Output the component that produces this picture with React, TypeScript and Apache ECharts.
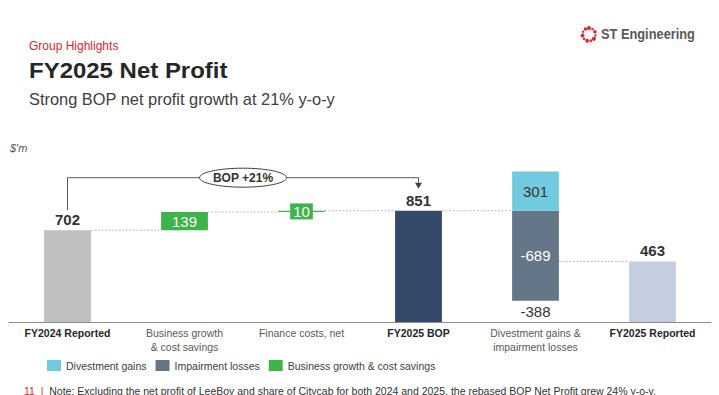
import React, { useEffect, useRef } from "react";
import * as echarts from "echarts";

const categories = [
  "FY2024 Reported",
  "Business growth\n& cost savings",
  "Finance costs, net",
  "FY2025 BOP",
  "Divestment gains &\nimpairment losses",
  "FY2025 Reported",
];
const totalFlags = [true, false, false, true, false, true];
const totals = [702, null, null, 851, null, 463];
const growth = [null, 139, 10, null, null, null];
const impairment = [null, null, null, null, 689, null];
const divestment = [null, null, null, null, 301, null];
const totalColors = ["#BFBFBF", "", "", "#34486A", "", "#C3CEE0"];
const bracketLevel = 1104;

const GREEN = "#3CB44A";
const BLUE = "#72CAE0";
const SLATE = "#667689";
const FONT = "Liberation Sans, Arial, sans-serif";

export default function App() {
  const ref = useRef<HTMLDivElement>(null);
  useEffect(() => {
    if (!ref.current) return;
    const chart = echarts.init(ref.current, undefined, { renderer: "svg" });

    // waterfall bases
    const base: (number | null)[] = [];
    let running = 0;
    categories.forEach((_, i) => {
      if (totals[i] != null) {
        base.push(0);
        running = totals[i] as number;
      } else if (growth[i] != null) {
        base.push(running);
        running += growth[i] as number;
      } else {
        base.push(running - (impairment[i] as number));
        running = running - (impairment[i] as number) + (divestment[i] as number);
      }
    });
    const divIdx = 4;
    const bopIdx = 3;
    const net = (divestment[divIdx] as number) - (impairment[divIdx] as number);
    const pct = Math.round(((totals[bopIdx] as number) / (totals[0] as number) - 1) * 100);

    // dotted connectors between adjacent bars: [from, to, level]
    const connectors: number[][] = [
      [0, 1, totals[0] as number],
      [1, 2, (totals[0] as number) + (growth[1] as number)],
      [2, 3, totals[bopIdx] as number],
      [3, 4, totals[bopIdx] as number],
      [4, 5, totals[5] as number],
    ];

    const option: any = {
      animation: false,
      backgroundColor: "#ffffff",
      textStyle: { fontFamily: FONT },
      grid: { left: 9, right: 8, top: 139, bottom: 73, containLabel: false },
      legend: {
        data: ["Divestment gains", "Impairment losses", "Business growth & cost savings"],
        left: 47,
        top: 360,
        padding: 0,
        itemWidth: 14,
        itemHeight: 11,
        itemGap: 9,
        icon: "rect",
        textStyle: { fontSize: 10.5, color: "#404040", fontFamily: FONT },
      },
      xAxis: {
        type: "category",
        data: categories,
        axisTick: { show: false },
        axisLine: { lineStyle: { color: "#8C8C8C", width: 1 } },
        axisLabel: {
          interval: 0,
          margin: 4,
          formatter: (v: string, idx: number) => {
            const key = totalFlags[idx] ? "b" : "n";
            return v
              .split("\n")
              .map((s) => `{${key}|${s}}`)
              .join("\n");
          },
          rich: {
            b: { fontSize: 10.5, fontWeight: "bold", color: "#262626", lineHeight: 14 },
            n: { fontSize: 10.5, color: "#595959", lineHeight: 14 },
          },
        },
      },
      yAxis: { type: "value", min: 0, max: 1400, show: false, splitLine: { show: false } },
      series: [
        {
          name: "base",
          type: "bar",
          stack: "w",
          barWidth: "40%",
          itemStyle: { color: "transparent" },
          silent: true,
          data: base.map((b, i) =>
            i === divIdx
              ? {
                  value: b,
                  label: {
                    show: true,
                    position: "insideTop",
                    distance: 3,
                    formatter: String(net),
                    fontSize: 15,
                    color: "#333333",
                  },
                }
              : b
          ),
        },
        {
          name: "Totals",
          type: "bar",
          stack: "w",
          data: totals.map((v, i) =>
            v == null ? null : { value: v, itemStyle: { color: totalColors[i] } }
          ),
          label: {
            show: true,
            position: "top",
            distance: 3,
            fontSize: 15,
            fontWeight: "bold",
            color: "#333333",
          },
        },
        {
          name: "Business growth & cost savings",
          type: "bar",
          stack: "w",
          itemStyle: { color: GREEN },
          data: growth.map((v) =>
            v == null
              ? null
              : v < 50
              ? {
                  value: v,
                  label: {
                    show: true,
                    position: "inside",
                    backgroundColor: GREEN,
                    padding: [1, 3, 0, 3],
                    color: "#ffffff",
                    fontSize: 15,
                  },
                }
              : v
          ),
          label: { show: true, position: "inside", color: "#ffffff", fontSize: 15 },
        },
        {
          name: "Impairment losses",
          type: "bar",
          stack: "w",
          itemStyle: { color: SLATE },
          data: impairment,
          label: {
            show: true,
            position: "inside",
            color: "#ffffff",
            fontSize: 15,
            formatter: (p: any) => "-" + p.value,
          },
        },
        {
          name: "Divestment gains",
          type: "bar",
          stack: "w",
          itemStyle: { color: BLUE },
          data: divestment,
          label: { show: true, position: "inside", color: "#333333", fontSize: 15 },
        },
        {
          name: "connectors",
          type: "custom",
          silent: true,
          z: 1,
          encode: { x: 0, y: 2 },
          data: connectors,
          renderItem: (params: any, api: any) => {
            const from = api.value(0);
            const to = api.value(1);
            const lv = api.value(2);
            const bw = api.size([1, 0])[0] * 0.4;
            const p1 = api.coord([from, lv]);
            const p2 = api.coord([to, lv]);
            return {
              type: "line",
              shape: { x1: p1[0] + bw / 2, y1: p1[1], x2: p2[0] - bw / 2, y2: p2[1] },
              style: { stroke: "#BFBFBF", lineWidth: 1, lineDash: [2, 1.5] },
            };
          },
        },
        {
          name: "bracket",
          type: "custom",
          silent: true,
          z: 5,
          encode: { x: 0, y: 1 },
          data: [[0, totals[0], bopIdx, totals[bopIdx]]],
          renderItem: (params: any, api: any) => {
            const a = api.coord([api.value(0), api.value(1)]);
            const b = api.coord([api.value(2), api.value(3)]);
            const h = api.coord([0, bracketLevel])[1];
            const y0 = a[1] - 20;
            const y1 = b[1] - 22;
            const mx = (a[0] + b[0]) / 2;
            return {
              type: "group",
              children: [
                {
                  type: "polyline",
                  shape: { points: [[a[0], y0], [a[0], h], [b[0], h], [b[0], y1 - 6]] },
                  style: { stroke: "#595959", lineWidth: 1, fill: null },
                },
                {
                  type: "polygon",
                  shape: { points: [[b[0] - 3.5, y1 - 6], [b[0] + 3.5, y1 - 6], [b[0], y1]] },
                  style: { fill: "#404040" },
                },
                {
                  type: "ellipse",
                  shape: { cx: mx, cy: h, rx: 43.5, ry: 9.5 },
                  style: { fill: "#ffffff", stroke: "#404040", lineWidth: 1 },
                },
                {
                  type: "text",
                  x: mx,
                  y: h,
                  style: {
                    text: `BOP +${pct}%`,
                    fill: "#333333",
                    font: `bold 12px ${FONT}`,
                    align: "center",
                    verticalAlign: "middle",
                  },
                },
              ],
            };
          },
        },
      ],
      graphic: [
        {
          type: "text",
          x: 29,
          y: 40,
          style: { text: "Group Highlights", fill: "#E11F2B", font: `12px ${FONT}` },
        },
        {
          type: "text",
          x: 29,
          y: 59,
          scaleX: 1.09,
          style: { text: "FY2025 Net Profit", fill: "#262626", font: `bold 22px ${FONT}` },
        },
        {
          type: "text",
          x: 29,
          y: 91,
          style: {
            text: "Strong BOP net profit growth at 21% y-o-y",
            fill: "#404040",
            font: `16.4px ${FONT}`,
          },
        },
        {
          type: "text",
          x: 10,
          y: 142,
          style: { text: "$'m", fill: "#595959", font: `italic 11px ${FONT}` },
        },
        {
          type: "group",
          x: 589,
          y: 34.5,
          children: [0, 1, 2, 3, 4, 5, 6, 7, 8, 9, 10].map((k) => {
            const ang = (k / 11) * Math.PI * 2 - Math.PI / 2;
            const r = [2.0, 1.3, 1.8, 1.2, 2.1, 1.4, 1.9, 1.3, 2.0, 1.2, 1.7][k];
            return {
              type: "circle",
              shape: { cx: Math.cos(ang) * 6.5, cy: Math.sin(ang) * 6.5, r },
              style: { fill: "#E2262F" },
            };
          }),
        },
        {
          type: "text",
          x: 601,
          y: 26,
          scaleX: 0.855,
          style: {
            text: "ST Engineering",
            fill: "#58595B",
            font: `bold 15px ${FONT}`,
          },
        },
        {
          type: "text",
          x: 24,
          y: 385,
          style: {
            rich: {
              r: { fill: "#E11F2B", fontSize: 10.5 },
              t: { fill: "#333333", fontSize: 10.5 },
            },
            text:
              "{r|11  |}  {t|Note: Excluding the net profit of LeeBoy and share of Citycab for both 2024 and 2025, the rebased BOP Net Profit grew 24% y-o-y.}",
            font: `10.5px ${FONT}`,
          },
        },
      ],
    };
    chart.setOption(option);
    return () => chart.dispose();
  }, []);
  return (
    <div
      ref={ref}
      style={{ position: "fixed", left: 0, top: 0, width: 719, height: 395, background: "#fff" }}
    />
  );
}
